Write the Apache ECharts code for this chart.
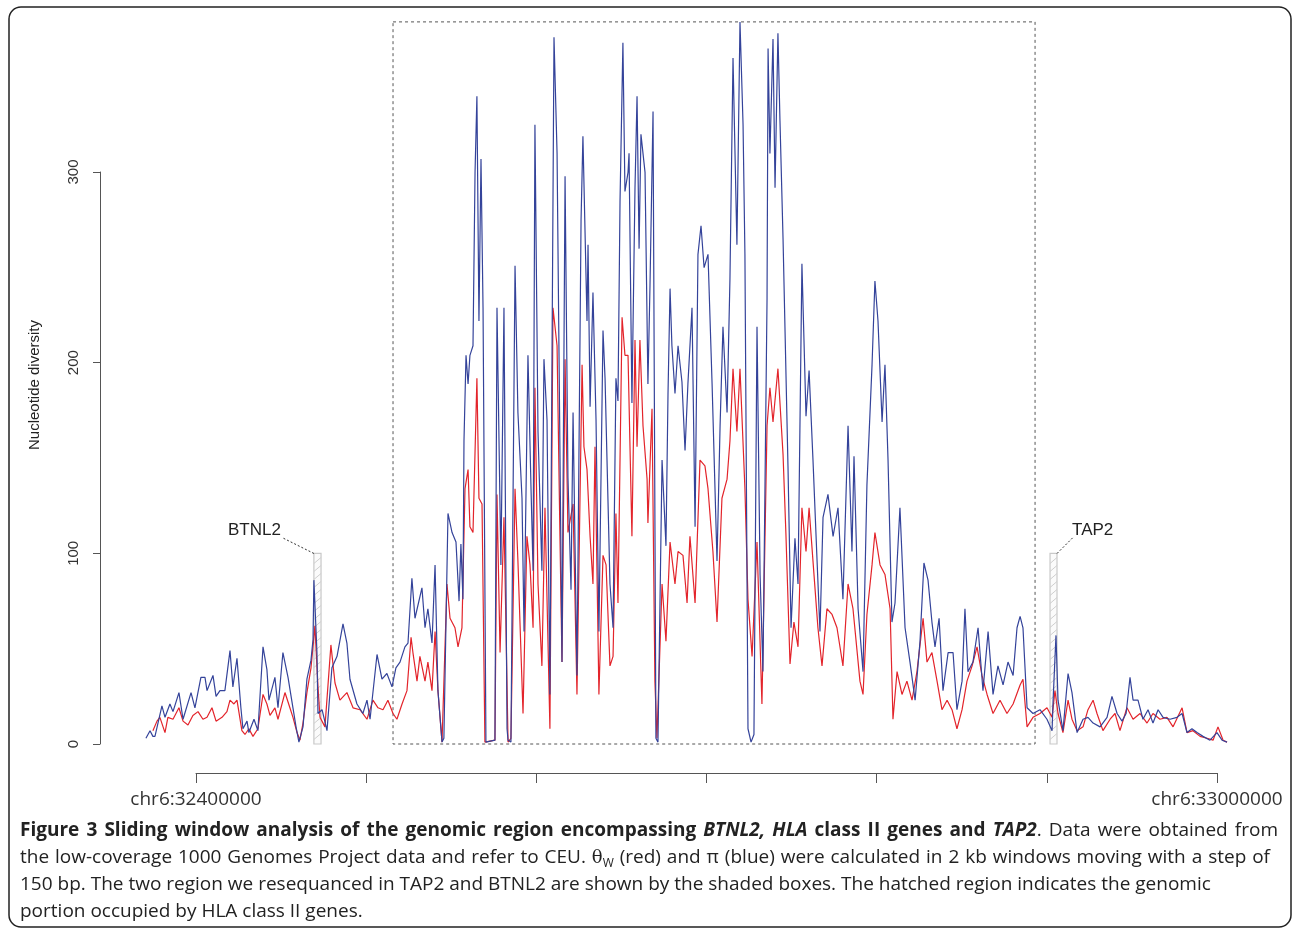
<!DOCTYPE html>
<html><head><meta charset="utf-8">
<script src="https://cdn.jsdelivr.net/npm/echarts@6/dist/echarts.min.js"></script>
<style>html,body{margin:0;padding:0;background:#fff}#c{width:1293px;height:930px}</style>
</head><body><div id="c"></div>
<script>
// Position: kb offset from chr6:32,400,000 ; value: nucleotide diversity
const blueX = [-29.4,-27.0,-25.3,-24.1,-20.0,-18.2,-15.3,-13.5,-10.0,-7.6,-2.9,-0.6,2.9,5.3,6.5,10.0,11.8,14.1,17.0,20.0,21.7,24.1,26.4,27.6,30.0,31.1,34.1,36.4,39.4,41.7,42.9,46.4,48.2,51.1,54.1,57.0,58.8,60.5,62.9,65.2,67.6,68.8,69.3,71.1,71.7,74.1,77.0,79.9,82.9,86.4,88.7,90.5,94.6,98.1,100.5,102.3,106.4,109.3,112.2,115.2,117.5,119.9,122.8,124.6,126.9,128.7,132.8,134.6,136.3,138.7,140.5,142.2,144.6,145.7,148.1,150.5,152.8,154.6,155.7,156.9,157.5,158.7,159.9,161.0,162.8,164.0,165.1,166.3,167.5,168.7,170.4,175.7,176.9,179.2,181.0,182.8,183.4,185.1,187.5,189.2,191.6,192.8,195.1,196.9,198.1,199.2,201.0,203.3,204.5,206.3,208.0,210.4,212.2,215.1,216.9,218.6,220.4,221.6,223.9,226.3,227.4,229.8,230.4,231.6,233.3,235.1,236.8,239.2,240.4,243.3,245.1,246.8,248.0,249.2,250.9,252.1,253.9,254.5,256.2,258.0,259.2,260.4,261.5,263.9,265.6,266.8,268.6,270.3,271.5,273.9,276.2,277.4,278.6,279.7,281.5,283.3,285.6,287.4,289.1,291.5,293.3,295.0,296.8,298.6,300.9,303.3,306.2,308.0,309.7,312.1,313.8,315.6,317.9,319.7,321.5,322.6,324.4,326.2,327.9,329.7,331.5,333.2,335.6,336.2,337.3,339.1,340.3,342.0,343.2,345.0,347.9,349.7,352.0,353.8,356.1,358.5,360.3,362.6,365.0,366.7,368.5,371.4,374.4,377.3,380.2,383.2,385.5,386.7,389.1,392.0,394.3,397.3,399.0,400.8,403.2,404.9,406.7,409.0,410.8,413.7,416.7,419.6,422.6,425.5,427.8,430.2,432.5,434.3,436.7,439.0,442.0,444.9,447.2,450.2,451.9,453.7,456.6,459.6,462.5,465.5,468.4,471.3,474.3,477.2,480.2,482.5,484.3,486.0,488.4,491.9,496.0,500.1,503.1,503.7,505.4,506.6,509.5,512.5,514.8,517.8,521.3,524.2,527.2,531.3,535.4,538.3,541.3,544.2,546.6,548.9,550.7,553.6,556.5,559.5,562.4,565.4,568.3,572.4,576.5,579.5,582.4,585.3,588.3,591.8,595.9,600.0,603.0,605.9];
const blueY = [3,7,4,4,20,14,21,17,27,13,27,19,35,35,28,36,25,28,28,49,30,45,19,8,12,6,13,7,51,39,23,35,19,48,35,19,9,1,9,34,44,55,86,48,16,18,7,40,46,63,53,34,21,16,23,13,47,34,37,30,40,43,51,53,87,66,82,61,71,53,94,28,1,3,121,111,106,75,105,76,159,204,189,204,209,300,340,222,307,229,1,2,229,94,229,8,2,1,251,174,129,59,204,134,91,325,164,91,202,170,26,371,310,43,298,140,81,174,36,275,319,222,262,177,237,170,59,217,192,84,61,192,180,285,368,290,300,310,179,292,340,260,320,300,189,240,332,3,1,149,104,184,239,209,184,209,190,154,189,229,114,257,272,250,257,189,96,167,219,174,244,360,262,379,325,257,8,1,5,219,89,38,234,365,310,370,292,373,327,265,146,61,108,84,252,172,196,149,96,59,119,131,109,124,76,167,101,151,71,38,136,199,243,222,169,199,149,64,74,124,61,43,23,54,95,86,64,51,66,28,48,48,18,33,71,38,43,61,28,59,26,41,31,43,36,61,67,61,19,16,18,13,7,23,57,23,7,37,27,6,13,14,11,9,14,25,16,12,16,35,23,23,13,18,11,18,14,13,14,16,6,8,6,4,2,6,2,1];
const redX = [-25.3,-22.9,-21.2,-18.2,-16.5,-13.5,-10.0,-7.6,-4.7,-1.8,1.2,4.1,6.5,9.4,11.8,15.3,18.2,20.0,22.3,24.1,27.0,28.8,31.1,33.5,36.4,39.4,41.7,43.5,46.4,48.2,52.3,55.2,57.0,59.4,61.1,62.9,65.2,67.6,69.9,71.7,72.9,75.8,79.3,81.7,84.6,88.7,92.3,96.4,100.5,104.0,107.0,109.9,112.8,115.8,118.1,121.1,124.0,126.4,127.5,129.9,131.6,134.6,136.3,138.7,140.5,142.2,144.6,147.5,149.3,152.2,154.0,156.3,158.1,159.9,161.0,162.8,165.1,166.3,168.1,169.8,175.7,176.9,178.7,181.0,183.4,185.1,187.5,189.2,192.2,194.5,196.3,198.1,199.2,201.0,203.3,205.1,208.0,209.8,212.2,213.9,215.1,216.9,218.6,221.6,223.9,226.9,228.0,229.8,231.6,233.3,234.5,236.8,239.2,241.0,243.3,245.1,246.8,248.0,250.4,252.1,253.9,256.2,258.0,259.2,260.9,262.7,265.1,265.6,268.0,269.7,270.9,273.9,276.2,278.6,281.5,283.3,286.2,288.6,290.3,293.3,296.2,299.1,300.9,303.8,306.2,309.1,312.1,313.8,315.6,317.9,319.7,322.6,324.4,326.8,329.7,332.6,335.6,337.3,339.1,342.0,345.0,346.7,349.1,351.4,353.8,356.1,358.5,360.3,362.6,365.5,367.9,370.8,373.8,376.7,380.2,383.2,386.1,390.2,392.0,394.3,397.3,399.0,402.0,404.9,407.9,409.6,412.0,414.9,417.8,420.8,423.7,427.3,429.6,432.5,435.5,438.4,441.4,444.3,447.2,450.2,453.1,456.1,459.0,461.9,464.9,468.4,472.5,476.6,480.2,484.3,486.0,488.4,491.9,496.0,500.1,503.1,504.8,506.6,509.5,512.5,514.8,517.8,521.3,524.2,527.2,529.5,533.0,537.2,540.1,543.0,547.1,550.7,554.8,558.9,562.4,566.5,570.6,574.2,579.5,582.4,585.9,590.1,594.2,597.7,600.6,603.6,605.9];
const redY = [7,12,14,6,14,13,19,12,10,15,17,13,14,19,12,14,17,23,21,23,7,5,8,4,8,26,21,15,19,13,27,19,14,6,2,11,27,40,62,30,14,9,52,32,23,27,19,18,13,23,19,18,23,16,13,21,28,56,48,33,46,33,43,28,59,28,1,84,66,61,51,61,134,144,114,111,192,129,126,1,2,131,48,119,1,3,134,96,16,109,94,61,187,84,41,124,8,229,209,109,43,202,111,126,26,199,156,144,109,84,156,26,99,94,41,46,121,74,224,204,204,109,212,156,212,167,139,116,176,33,3,84,54,106,84,101,99,74,109,74,149,146,134,101,64,129,139,159,197,164,197,134,76,46,106,21,167,187,169,197,152,110,42,64,51,124,101,124,96,61,41,71,68,61,41,84,71,33,26,68,94,111,94,89,71,13,38,26,33,23,38,66,43,48,33,18,23,18,8,18,33,41,51,36,26,16,23,16,21,31,34,9,14,16,19,14,28,16,6,23,13,7,9,18,23,16,7,13,16,7,19,13,16,11,16,13,14,9,19,6,7,4,3,2,9,2,1];

const geneNames = ['BTNL2', 'TAP2'];
const geneStart = [69.3, 501.9];
const geneEnd = [73.5, 506.0];
const geneTop = [100, 100];
const geneLabelSide = ['left', 'right'];
const hlaStart = 115.8, hlaEnd = 493.1, hlaTop = 379;

const xTickLabels = ['chr6:32400000', '', '', '', '', '', 'chr6:33000000'];
const yAxisName = 'Nucleotide diversity';

// Caption: [word, style, noGapAfter]
const capLine1 = [['Figure','b'],['3','b'],['Sliding','b'],['window','b'],['analysis','b'],['of','b'],['the','b'],['genomic','b'],['region','b'],['encompassing','b'],['BTNL2,','bi'],['HLA','bi'],['class','b'],['II','b'],['genes','b'],['and','b'],['TAP2','bi',true],['.','n'],['Data','n'],['were','n'],['obtained','n'],['from','n']];
const capLine2 = [['the','n'],['low-coverage','n'],['1000','n'],['Genomes','n'],['Project','n'],['data','n'],['and','n'],['refer','n'],['to','n'],['CEU.','n'],['θ','th',true],['W','sub'],['(red)','n'],['and','n'],['π','n'],['(blue)','n'],['were','n'],['calculated','n'],['in','n'],['2','n'],['kb','n'],['windows','n'],['moving','n'],['with','n'],['a','n'],['step','n'],['of','n']];
const capLine3 = '150 bp. The two region we resequanced in TAP2 and BTNL2 are shown by the shaded boxes. The hatched region indicates the genomic';
const capLine4 = 'portion occupied by HLA class II genes.';

const CAP = 19;
const capStyles = {
  b: {fontWeight: 'bold', fontFamily: 'Open Sans', fontSize: CAP, fill: '#222'},
  bi: {fontWeight: 'bold', fontStyle: 'italic', fontFamily: 'Open Sans', fontSize: CAP, fill: '#222'},
  n: {fontFamily: 'Open Sans', fontSize: CAP, fill: '#222'},
  th: {fontFamily: 'DejaVu Serif', fontSize: CAP - 1, fill: '#222'},
  sub: {fontFamily: 'Open Sans', fontSize: 12, fill: '#222', padding: [11, 0, 0, 0]}
};
const measureCtx = document.createElement('canvas').getContext('2d');
function fontOf(s) {
  return (s.fontStyle || 'normal') + ' ' + (s.fontWeight || 'normal') + ' ' + s.fontSize + 'px "' + s.fontFamily + '"';
}
function justified(tokens, x0, x1) {
  let sum = 0, gaps = 0;
  tokens.forEach((t, i) => {
    measureCtx.font = fontOf(capStyles[t[1]]);
    sum += measureCtx.measureText(t[0]).width;
    if (i < tokens.length - 1 && !t[2]) gaps++;
  });
  const sp = Math.max(3, (x1 - x0 - sum) / gaps);
  const text = tokens.map((t, i) => '{' + t[1] + '|' + t[0] + '}' +
    ((i < tokens.length - 1 && !t[2]) ? '{sp|\u00a0}' : '')).join('');
  const rich = Object.assign({}, capStyles, {sp: {width: sp, fontSize: CAP, fontFamily: 'Open Sans'}});
  return {text, rich};
}
const j1 = justified(capLine1, 20, 1278);
const j2 = justified(capLine2, 20, 1270);

const chart = echarts.init(document.getElementById('c'), null, {renderer: 'canvas'});

const option = {
  animation: false,
  backgroundColor: '#fff',
  grid: [
    {left: 127.9, right: 42, top: 20, height: 724},
    {left: 196, right: 76, top: 772, height: 1},
    {left: 100, width: 10, top: 172, height: 572}
  ],
  xAxis: [
    {gridIndex: 0, type: 'value', min: -40, max: 620, show: false},
    {gridIndex: 1, type: 'value', min: 0, max: 600, interval: 100,
     axisLine: {lineStyle: {color: '#555', width: 1}},
     axisTick: {length: 10, lineStyle: {color: '#555'}},
     axisLabel: {formatter: (v, i) => xTickLabels[i] || '', margin: 17, fontSize: 19,
                 color: '#333', fontFamily: 'Open Sans'},
     splitLine: {show: false}},
    {gridIndex: 2, type: 'value', show: false}
  ],
  yAxis: [
    {gridIndex: 0, type: 'value', min: 0, max: 380, show: false},
    {gridIndex: 1, type: 'value', show: false},
    {gridIndex: 2, type: 'value', min: 0, max: 300, interval: 100, position: 'left',
     axisLine: {show: true, lineStyle: {color: '#555', width: 1}},
     axisTick: {show: true, length: 7, lineStyle: {color: '#555'}},
     axisLabel: {rotate: 90, margin: 19, fontSize: 15, fontFamily: 'Liberation Sans', color: '#333'},
     splitLine: {show: false}}
  ],
  graphic: [
    {type: 'rect', shape: {x: 9, y: 7, width: 1282, height: 920, r: 12},
     style: {fill: 'none', stroke: '#222', lineWidth: 1.5}, silent: true},
    {type: 'text', x: 35, y: 385, rotation: Math.PI / 2,
     style: {text: yAxisName, fontSize: 15, fontFamily: 'Liberation Sans', fill: '#222',
             align: 'center', verticalAlign: 'middle'}},
    {type: 'text', x: 20, y: 831,
     style: {text: j1.text, rich: j1.rich, verticalAlign: 'middle',
             fontFamily: 'Open Sans', fontSize: CAP, fill: '#222'}},
    {type: 'text', x: 20, y: 858,
     style: {text: j2.text, rich: j2.rich, verticalAlign: 'middle',
             fontFamily: 'Open Sans', fontSize: CAP, fill: '#222'}},
    {type: 'text', x: 20, y: 885,
     style: {text: capLine3, verticalAlign: 'middle', fontFamily: 'Open Sans', fontSize: CAP, fill: '#222'}},
    {type: 'text', x: 20, y: 912,
     style: {text: capLine4, verticalAlign: 'middle', fontFamily: 'Open Sans', fontSize: CAP, fill: '#222'}}
  ],
  series: [
    {type: 'custom', xAxisIndex: 0, yAxisIndex: 0, silent: true, z: 1,
     data: [[hlaStart, hlaEnd, hlaTop]],
     renderItem: (params, api) => {
       const p0 = api.coord([api.value(0), 0]);
       const p1 = api.coord([api.value(1), api.value(2)]);
       return {type: 'rect', shape: {x: p0[0], y: p1[1], width: p1[0] - p0[0], height: p0[1] - p1[1]},
               style: {fill: 'none', stroke: '#555', lineWidth: 1, lineDash: [3, 3]}};
     }},
    {type: 'custom', xAxisIndex: 0, yAxisIndex: 0, silent: true, z: 1,
     data: geneStart.map((s, i) => [s, geneEnd[i], geneTop[i], i]),
     renderItem: (params, api) => {
       const idx = api.value(3);
       const p0 = api.coord([api.value(0), 0]);
       const p1 = api.coord([api.value(1), api.value(2)]);
       const x = p0[0], y = p1[1], w = p1[0] - p0[0], h = p0[1] - p1[1];
       const children = [{type: 'rect', shape: {x, y, width: w, height: h},
                          style: {fill: '#fbfbfb', stroke: '#c9c9c9', lineWidth: 1.2}}];
       for (let yy = y + 10; yy <= y + h; yy += 8) {
         children.push({type: 'line', shape: {x1: x, y1: yy, x2: x + w, y2: yy - 6},
                        style: {stroke: '#cfcfcf', lineWidth: 1}});
       }
       if (geneLabelSide[idx] === 'left') {
         children.push({type: 'line', shape: {x1: x, y1: y, x2: x - 32, y2: y - 16},
                        style: {stroke: '#333', lineWidth: 1, lineDash: [2, 2]}});
         children.push({type: 'text', x: x - 33, y: y - 23,
                        style: {text: geneNames[idx], align: 'right', verticalAlign: 'middle',
                                fontSize: 17, fontFamily: 'Liberation Sans', fill: '#222'}});
       } else {
         children.push({type: 'line', shape: {x1: x + w, y1: y, x2: x + w + 16, y2: y - 16},
                        style: {stroke: '#333', lineWidth: 1, lineDash: [2, 2]}});
         children.push({type: 'text', x: x + w + 15, y: y - 23,
                        style: {text: geneNames[idx], align: 'left', verticalAlign: 'middle',
                                fontSize: 17, fontFamily: 'Liberation Sans', fill: '#222'}});
       }
       return {type: 'group', children};
     }},
    {type: 'line', name: 'θW', xAxisIndex: 0, yAxisIndex: 0, z: 3, showSymbol: false, silent: true,
     data: redX.map((x, i) => [x, redY[i]]),
     lineStyle: {color: '#e3242b', width: 1.2}},
    {type: 'line', name: 'π', xAxisIndex: 0, yAxisIndex: 0, z: 4, showSymbol: false, silent: true,
     data: blueX.map((x, i) => [x, blueY[i]]),
     lineStyle: {color: '#34439a', width: 1.2}}
  ]
};
chart.setOption(option);
</script>
</body></html>
